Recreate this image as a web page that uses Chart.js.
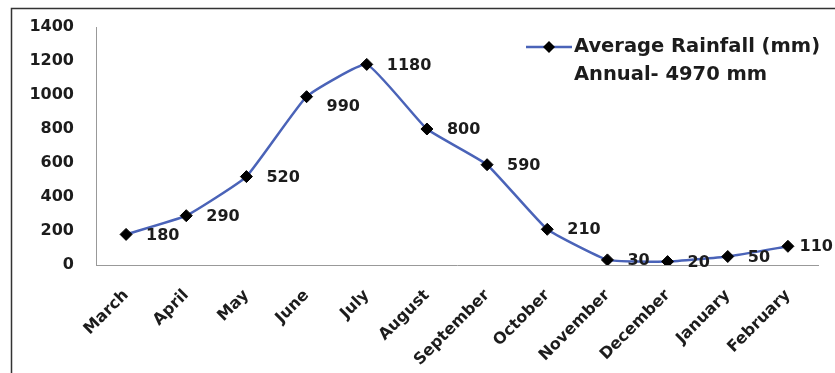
<!DOCTYPE html>
<html><head><meta charset="utf-8">
<script src="https://cdn.jsdelivr.net/npm/chart.js@4/dist/chart.umd.min.js"></script>
<style>html,body{margin:0;padding:0;background:#fff}#wrap{width:835px;height:373px}</style>
</head><body><div id="wrap"><canvas id="c" width="835" height="373"></canvas></div>
<script>
const categories = ["March","April","May","June","July","August","September","October","November","December","January","February"];
const rainfall = [180,290,520,990,1180,800,590,210,30,20,50,110];
const yTicks = [0,200,400,600,800,1000,1200,1400];
const seriesName = "Average Rainfall (mm)";
const noteText = "Annual- 4970 mm";

const FONT = "'DejaVu Sans', sans-serif";
const TXT = '#1c1c1c';

const framePlugin = {
  id: 'frame',
  beforeDraw(chart) {
    const ctx = chart.ctx;
    ctx.save();
    ctx.fillStyle = '#fff';
    ctx.fillRect(0,0,chart.width,chart.height);
    ctx.strokeStyle = '#333';
    ctx.lineWidth = 1.5;
    ctx.beginPath();
    ctx.moveTo(11.5, 373); ctx.lineTo(11.5, 8.5); ctx.lineTo(835, 8.5);
    ctx.stroke();
    ctx.restore();
  },
  afterDraw(chart) {
    const ctx = chart.ctx;
    ctx.save();
    const lx = 526, ly = 47;
    ctx.strokeStyle = '#4a63b8';
    ctx.lineWidth = 2.5;
    ctx.beginPath(); ctx.moveTo(lx, ly); ctx.lineTo(lx+46, ly); ctx.stroke();
    ctx.fillStyle = '#000';
    ctx.beginPath();
    ctx.moveTo(lx+23, ly-6); ctx.lineTo(lx+29, ly); ctx.lineTo(lx+23, ly+6); ctx.lineTo(lx+17, ly); ctx.closePath(); ctx.fill();
    ctx.font = "700 19.5px " + FONT;
    ctx.fillStyle = TXT;
    ctx.textBaseline = 'middle';
    ctx.textAlign = 'left';
    ctx.fillText(seriesName, lx+48, ly);
    ctx.fillText(noteText, lx+48, ly+28);
    ctx.restore();
  },
  afterDatasetsDraw(chart) {
    const ctx = chart.ctx;
    const meta = chart.getDatasetMeta(0);
    ctx.save();
    ctx.font = "700 16px " + FONT;
    ctx.fillStyle = TXT;
    ctx.textBaseline = 'middle';
    ctx.textAlign = 'left';
    meta.data.forEach((pt, i) => {
      const t = String(rainfall[i]);
      const w = ctx.measureText(t).width;
      const dy = (i === 3) ? 10 : 1;
      const x = Math.min(pt.x + 20, chart.width - w - 2);
      ctx.fillText(t, x, pt.y + dy);
    });
    ctx.restore();
  }
};

new Chart(document.getElementById('c'), {
  type: 'line',
  data: {
    labels: categories,
    datasets: [{
      label: seriesName,
      data: rainfall,
      borderColor: '#4a63b8',
      borderWidth: 2.5,
      tension: 0.12,
      pointStyle: 'rectRot',
      pointRadius: 6,
      pointBackgroundColor: '#000',
      pointBorderColor: '#000',
      pointBorderWidth: 1,
      fill: false
    }]
  },
  options: {
    responsive: false,
    animation: false,
    devicePixelRatio: 1,
    layout: { padding: { left: 0, right: 17, top: 27, bottom: 0 } },
    plugins: { legend: { display: false }, tooltip: { enabled: false } },
    scales: {
      x: {
        offset: true,
        grid: { display: false, drawTicks: false, offset: true },
        border: { display: true, color: '#999', width: 1 },
        ticks: {
          autoSkip: false, maxRotation: 45, minRotation: 45,
          font: { family: FONT, weight: '700', size: 16 }, color: TXT, padding: 21
        },
        afterFit(s) { s.height = 108; s.paddingTop = 0; }
      },
      y: {
        min: 0, max: 1400,
        afterBuildTicks(s) { s.ticks = yTicks.map(v => ({ value: v })); },
        grid: { display: false, drawTicks: false },
        border: { display: true, color: '#999', width: 1 },
        ticks: {
          font: { family: FONT, weight: '700', size: 16 }, color: TXT, padding: 22,
          callback: (v) => String(v)
        },
        afterFit(s) { s.width = 96; s.paddingTop = 0; s.paddingBottom = 0; }
      }
    }
  },
  plugins: [framePlugin]
});
</script></body></html>
